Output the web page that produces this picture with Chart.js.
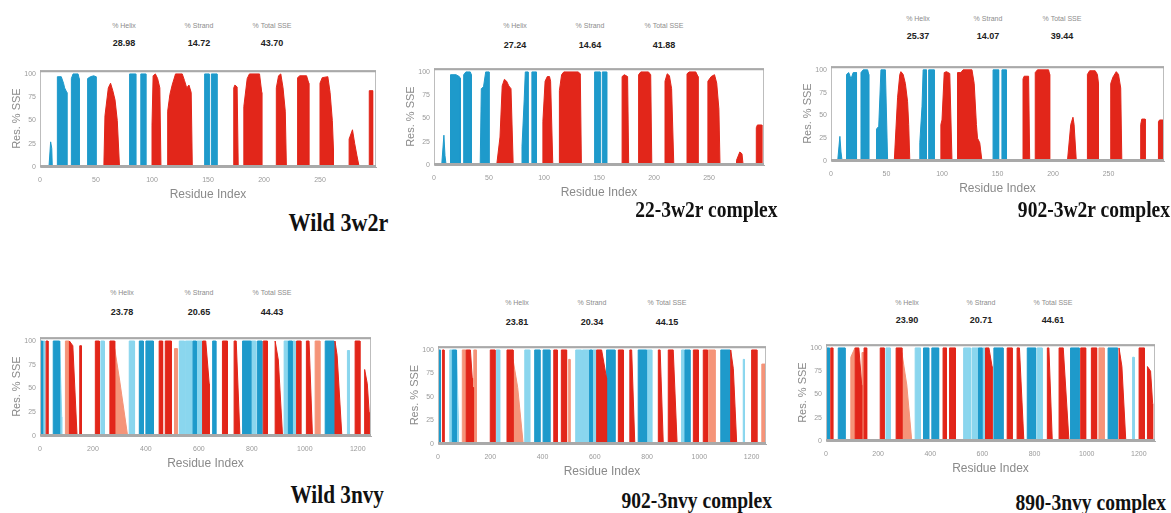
<!DOCTYPE html>
<html>
<head>
<meta charset="utf-8">
<title>Secondary structure per residue</title>
<script src="https://cdn.jsdelivr.net/npm/chart.js@4.4.1/dist/chart.umd.min.js"></script>
<style>
  html, body { margin: 0; padding: 0; background: #fff; }
  body { position: relative; width: 1171px; height: 513px; overflow: hidden; font-family: "Liberation Sans", sans-serif; }
  canvas { position: absolute; }
  .lbl, .val { position: absolute; transform: translate(-50%, -50%); white-space: nowrap; }
  .lbl { font-size: 7px; color: #8c8c8c; }
  .val { font-size: 9px; font-weight: bold; color: #222; }
  .name { position: absolute; font-family: "Liberation Serif", serif; font-weight: bold; color: #111;
          line-height: 1; white-space: nowrap; transform: scaleX(0.85); transform-origin: right center; }
</style>
</head>
<body>
<script>
// ---- data ----
const panelNames = ["Wild 3w2r", "22-3w2r complex", "902-3w2r complex", "Wild 3nvy", "902-3nvy complex", "890-3nvy complex"];
const statLabels = ["% Helix", "% Strand", "% Total SSE"];
const helixPct = [28.98, 27.24, 25.37, 23.78, 23.81, 23.90];
const strandPct = [14.72, 14.64, 14.07, 20.65, 20.34, 20.71];
const totalPct = [43.70, 41.88, 39.44, 44.43, 44.15, 44.61];
const residueMax = [300, 300, 300, 1250, 1255, 1262];
const residueStep = [50, 50, 50, 200, 200, 200];
const sseMax = 104;
const sseStep = 25;

// each segment: residue, % SSE, residue, % SSE, ...
const wild3w2rHelix = [
  [57, 0, 58, 55, 61, 85, 63, 90, 65, 82, 67, 72, 69, 50, 71, 0],
  [100, 45, 101, 98, 103, 100, 105, 95, 107, 85, 108, 0],
  [114, 60, 116, 78, 118, 88, 121, 100, 127, 100, 129, 93, 131, 85, 133, 88, 135, 80, 136, 0],
  [173, 85, 174, 88, 176, 86, 177, 0],
  [182, 65, 185, 95, 187, 100, 196, 100, 198, 80],
  [211, 85, 213, 98, 215, 100, 217, 85, 219, 60, 220, 0],
  [230, 96, 232, 98, 238, 98, 240, 90],
  [250, 90, 252, 96, 257, 97, 259, 80, 261, 50, 262, 20],
  [276, 30, 279, 40, 281, 25, 283, 12, 285, 0],
  [294, 82, 297, 82]
];
const wild3w2rStrand = [
  [8, 0, 9.5, 27, 10.5, 20, 11, 0],
  [15.5, 97, 19, 97, 21, 90, 22, 85, 24, 80],
  [28, 95, 29.5, 100, 34, 100, 35, 95],
  [42.5, 95, 45, 97, 48, 98, 50, 97],
  [80, 100, 85.5, 100],
  [90, 100, 94.5, 100],
  [147, 100, 151, 100],
  [153, 100, 158, 100]
];

const c22w2rHelix = [
  [57, 0, 60, 30, 62, 85, 64, 92, 66, 90, 68, 85, 70, 82, 72, 0],
  [99, 47, 101, 90, 103, 95, 105, 95, 106, 90, 108, 0],
  [114, 80, 116, 97, 118, 100, 131, 100, 133, 98, 134, 0],
  [171, 95, 173, 97, 176, 95, 177, 0],
  [186, 97, 188, 100, 195, 100, 197, 97, 198, 0],
  [210, 90, 212, 98, 214, 96, 216, 82, 218, 0],
  [230, 98, 232, 100, 238, 100, 240, 95],
  [249, 90, 252, 95, 255, 97, 257, 88, 259, 60, 260, 0],
  [275, 5, 278, 14, 280, 12, 281, 0],
  [293, 40, 294, 43, 298, 43]
];
const c22w2rStrand = [
  [7, 0, 9, 32, 10, 10, 11, 0],
  [15, 97, 20, 97, 23, 95, 24, 93],
  [27, 97, 29, 100, 33, 100, 34, 97],
  [42, 0, 43, 82, 45, 84, 47, 100, 50, 100],
  [80, 20, 82, 70, 83, 100, 85.5, 100],
  [89, 100, 93, 100],
  [146, 100, 151, 100],
  [153, 100, 157, 100]
];

const c902w2rHelix = [
  [57, 0, 60, 70, 62, 95, 63, 98, 65, 95, 67, 85, 69, 65, 70, 40, 71, 0],
  [99, 40, 100, 45, 102, 97, 104, 98, 107, 96, 109, 0],
  [114, 97, 117, 97, 119, 100, 127, 100, 129, 85, 131, 40, 132, 25, 134, 20, 136, 0],
  [173, 90, 174, 93, 178, 93, 179, 0],
  [184, 97, 186, 100, 196, 100, 197, 95],
  [213, 0, 216, 40, 218, 48, 219, 40, 221, 0],
  [231, 95, 233, 99, 238, 99, 240, 95, 241, 85],
  [252, 85, 254, 92, 257, 98, 259, 95, 261, 80, 262, 0],
  [279, 40, 280, 46, 283, 46],
  [295, 43, 296, 45, 299, 45]
];
const c902w2rStrand = [
  [6, 0, 8, 27, 9, 10, 10, 0],
  [14, 95, 16, 97, 18, 90, 20, 97, 23, 97],
  [27, 97, 29, 100, 33, 100, 34, 95],
  [41, 35, 43, 38, 45, 100, 49, 100, 51, 0],
  [80, 20, 82, 60, 83, 100, 86, 100],
  [88, 100, 93, 100],
  [146, 100, 151, 100],
  [154, 100, 158, 100]
];

const wild3nvyHelix = [
  [23, 100, 30, 100], [111, 100, 124, 95, 140, 0], [150, 95, 156, 95], [209, 100, 224, 100],
  [264, 100, 282, 100], [450, 100, 463, 100], [473, 100, 496, 100], [614, 100, 626, 100, 639, 55],
  [689, 100, 708, 100], [733, 100, 741, 100, 755, 0], [843, 100, 859, 100], [888, 100, 900, 80, 916, 0],
  [969, 100, 985, 100], [1006, 100, 1016, 100, 1029, 0], [1114, 100, 1122, 85, 1140, 0],
  [1190, 100, 1208, 100], [1226, 70, 1236, 55, 1243, 25]
];
const wild3nvyHelixPale = [
  [96, 100, 110, 100], [282, 92, 300, 60, 331, 0], [508, 92, 518, 92], [1039, 100, 1057, 100]
];
const wild3nvyStrand = [
  [0, 100, 10, 100], [50, 100, 74, 100], [375, 100, 390, 100], [400, 100, 428, 100],
  [578, 100, 590, 100], [652, 100, 664, 100], [765, 100, 796, 100], [821, 100, 838, 100],
  [938, 100, 952, 100], [1077, 100, 1111, 100]
];
const wild3nvyStrandPale = [
  [12, 100, 18, 100], [74, 100, 82, 20], [230, 100, 243, 100], [337, 100, 357, 100],
  [526, 100, 546, 100], [549, 100, 577, 100], [591, 100, 613, 100], [796, 100, 815, 100],
  [922, 100, 937, 100], [953, 100, 964, 100], [1161, 90, 1168, 90]
];

const c902nvyHelix = [
  [17, 100, 23, 100], [108, 100, 124, 100, 131, 70], [133, 60, 136, 60], [200, 100, 218, 100],
  [264, 100, 287, 100], [443, 100, 456, 100], [472, 100, 492, 100], [607, 100, 626, 100, 645, 70],
  [690, 100, 709, 100], [734, 100, 741, 100, 753, 0], [843, 100, 850, 100, 862, 0],
  [881, 100, 900, 100, 915, 0], [977, 100, 996, 100], [1015, 100, 1031, 100],
  [1120, 100, 1130, 80, 1143, 0], [1200, 100, 1220, 100]
];
const c902nvyHelixPale = [
  [93, 100, 107, 100], [137, 100, 147, 100], [287, 90, 305, 60, 326, 0], [500, 90, 505, 90],
  [1034, 100, 1060, 100], [1239, 85, 1252, 85]
];
const c902nvyStrand = [
  [0, 100, 9, 100], [55, 100, 70, 100], [370, 100, 390, 100], [402, 100, 428, 100],
  [580, 100, 590, 100], [645, 100, 677, 100], [766, 100, 798, 100], [945, 100, 964, 100],
  [1082, 100, 1117, 100]
];
const c902nvyStrandPale = [
  [45, 100, 54, 100], [71, 100, 78, 25], [223, 100, 236, 100], [332, 100, 351, 100],
  [527, 100, 549, 100], [553, 100, 578, 100], [592, 100, 606, 100], [800, 100, 818, 100],
  [932, 100, 944, 100], [1168, 90, 1172, 90]
];

const c890nvyHelix = [
  [18, 100, 26, 100], [112, 100, 126, 100, 137, 60], [146, 100, 156, 100], [208, 100, 223, 100],
  [269, 100, 291, 100], [449, 100, 462, 100], [474, 100, 496, 100], [612, 100, 625, 100, 637, 80],
  [695, 100, 714, 100], [733, 100, 742, 100, 759, 0], [849, 100, 855, 100, 868, 0],
  [894, 100, 910, 100, 932, 0], [977, 100, 996, 100], [1018, 100, 1038, 100],
  [1124, 100, 1135, 80, 1150, 0], [1201, 100, 1221, 100], [1233, 80, 1245, 75, 1253, 40]
];
const c890nvyHelixPale = [
  [95, 90, 111, 100], [138, 95, 145, 95], [291, 95, 310, 60, 329, 0], [1047, 100, 1067, 100]
];
const c890nvyStrand = [
  [0, 100, 13, 100], [47, 100, 73, 100], [374, 100, 394, 100], [406, 100, 432, 100],
  [585, 100, 598, 100], [644, 100, 679, 100], [772, 100, 804, 100], [938, 100, 971, 100],
  [1082, 100, 1118, 100]
];
const c890nvyStrandPale = [
  [230, 100, 246, 100], [342, 100, 362, 100], [528, 100, 554, 100], [560, 100, 584, 100],
  [599, 100, 611, 100], [810, 100, 829, 100], [1176, 90, 1182, 90]
];

const panelSeries = [
  { helix: wild3w2rHelix, strand: wild3w2rStrand },
  { helix: c22w2rHelix, strand: c22w2rStrand },
  { helix: c902w2rHelix, strand: c902w2rStrand },
  { helix: wild3nvyHelix, strand: wild3nvyStrand, helixPale: wild3nvyHelixPale, strandPale: wild3nvyStrandPale },
  { helix: c902nvyHelix, strand: c902nvyStrand, helixPale: c902nvyHelixPale, strandPale: c902nvyStrandPale },
  { helix: c890nvyHelix, strand: c890nvyStrand, helixPale: c890nvyHelixPale, strandPale: c890nvyStrandPale }
];

// ---- layout (page pixels) ----
const panelLayout = [
  { left: 40, top: 66, right: 376, bottom: 167, statY: [25, 43], statX: [124, 199, 272], nameRight: 388, nameY: 223, nameSize: 26 },
  { left: 434, top: 64, right: 764, bottom: 165, statY: [25, 45], statX: [515, 590, 664], nameRight: 778, nameY: 209, nameSize: 23 },
  { left: 831, top: 62, right: 1164, bottom: 161, statY: [18, 36], statX: [918, 988, 1062], nameRight: 1170, nameY: 209, nameSize: 23 },
  { left: 40, top: 333, right: 371, bottom: 436, statY: [292, 312], statX: [122, 199, 272], nameRight: 384, nameY: 494, nameSize: 25 },
  { left: 438, top: 342, right: 766, bottom: 444, statY: [302, 322], statX: [517, 592, 667], nameRight: 772, nameY: 500, nameSize: 23 },
  { left: 826, top: 340, right: 1155, bottom: 441, statY: [302, 320], statX: [907, 981, 1053], nameRight: 1166, nameY: 502, nameSize: 23 }
];

const colors = {
  helix: "#e2261a",
  strand: "#1e9acb",
  helixPale: "#f59479",
  strandPale: "#8ad6ee"
};
const AXIS_W = 36, AXIS_H = 36, PAD_TOP = 4, PAD_RIGHT = 6;

function toPoints(segments) {
  const pts = [];
  segments.forEach((seg) => {
    pts.push({ x: seg[0], y: 0 });
    for (let i = 0; i < seg.length; i += 2) pts.push({ x: seg[i], y: seg[i + 1] });
    pts.push({ x: seg[seg.length - 2], y: 0 });
  });
  return pts;
}

const framePlugin = {
  id: "frame",
  afterDatasetsDraw(chart) {
    const { ctx, chartArea: a } = chart;
    ctx.save();
    ctx.strokeStyle = "#bdbdbd";
    ctx.lineWidth = 1;
    ctx.strokeRect(a.left + 0.5, a.top + 0.5, a.right - a.left - 1, a.bottom - a.top - 1);
    ctx.strokeStyle = "#a9a9a9";
    ctx.lineWidth = 2;
    ctx.beginPath();
    ctx.moveTo(a.left, a.top + 1);
    ctx.lineTo(a.right, a.top + 1);
    ctx.moveTo(a.left, a.bottom - 1);
    ctx.lineTo(a.right, a.bottom - 1);
    ctx.stroke();
    ctx.restore();
  }
};

function addText(cls, text, x, y) {
  const el = document.createElement("div");
  el.className = cls;
  el.textContent = text;
  el.style.left = x + "px";
  el.style.top = y + "px";
  document.body.appendChild(el);
}

function makePanel(i) {
  const box = panelLayout[i];
  const series = panelSeries[i];
  const xMax = residueMax[i];

  const canvas = document.createElement("canvas");
  const w = box.right - box.left + AXIS_W + PAD_RIGHT;
  const h = box.bottom - box.top + AXIS_H + PAD_TOP;
  canvas.width = w;
  canvas.height = h;
  canvas.style.left = box.left - AXIS_W + "px";
  canvas.style.top = box.top - PAD_TOP + "px";
  canvas.style.width = w + "px";
  canvas.style.height = h + "px";
  document.body.appendChild(canvas);

  const datasets = ["helix", "strand", "helixPale", "strandPale"]
    .filter((k) => series[k])
    .map((k) => ({
      label: k,
      data: toPoints(series[k]),
      backgroundColor: colors[k],
      borderColor: colors[k],
      borderWidth: 1,
      fill: "origin",
      pointRadius: 0,
      tension: 0
    }));

  const tickFont = { family: "Liberation Sans", size: 7 };
  new Chart(canvas, {
    type: "line",
    data: { datasets },
    plugins: [framePlugin],
    options: {
      responsive: false,
      animation: false,
      layout: { padding: { top: PAD_TOP, right: PAD_RIGHT, left: 0, bottom: 0 } },
      plugins: { legend: { display: false }, tooltip: { enabled: false } },
      scales: {
        x: {
          type: "linear",
          min: 0,
          max: xMax,
          grid: { display: false, drawTicks: false },
          border: { display: true, color: "#a9a9a9" },
          ticks: { stepSize: residueStep[i], includeBounds: false, maxRotation: 0, autoSkip: false,
                   padding: 9, color: "#9a9a9a", font: tickFont, callback: (v) => String(v) },
          afterBuildTicks: (s) => { s.ticks = s.ticks.filter((t) => t.value % residueStep[i] === 0 && t.value < xMax); },
          afterFit: (s) => { s.height = AXIS_H; },
          title: { display: true, text: "Residue Index", color: "#8a8a8a",
                   font: { family: "Liberation Sans", size: 12 }, padding: { top: 0, bottom: 1 } }
        },
        y: {
          min: 0,
          max: sseMax,
          grid: { display: false, drawTicks: false },
          border: { display: true, color: "#bdbdbd" },
          ticks: { stepSize: sseStep, includeBounds: false, padding: 4, color: "#9a9a9a", font: tickFont,
                   callback: (v) => String(v) },
          afterBuildTicks: (s) => { s.ticks = s.ticks.filter((t) => t.value % sseStep === 0); },
          afterFit: (s) => { s.width = AXIS_W; },
          title: { display: true, text: "Res. % SSE", color: "#8a8a8a",
                   font: { family: "Liberation Sans", size: 11 }, padding: { top: 6, bottom: 0 } }
        }
      }
    }
  });

  const values = [helixPct[i], strandPct[i], totalPct[i]];
  statLabels.forEach((t, k) => {
    addText("lbl", t, box.statX[k], box.statY[0]);
    addText("val", values[k].toFixed(2), box.statX[k], box.statY[1]);
  });

  const name = document.createElement("div");
  name.className = "name";
  name.textContent = panelNames[i];
  name.style.fontSize = box.nameSize + "px";
  name.style.right = 1171 - box.nameRight + "px";
  name.style.top = box.nameY - box.nameSize / 2 + "px";
  document.body.appendChild(name);
}

document.addEventListener("DOMContentLoaded", () => {
  panelNames.forEach((_, i) => makePanel(i));
});
</script>
</body>
</html>
